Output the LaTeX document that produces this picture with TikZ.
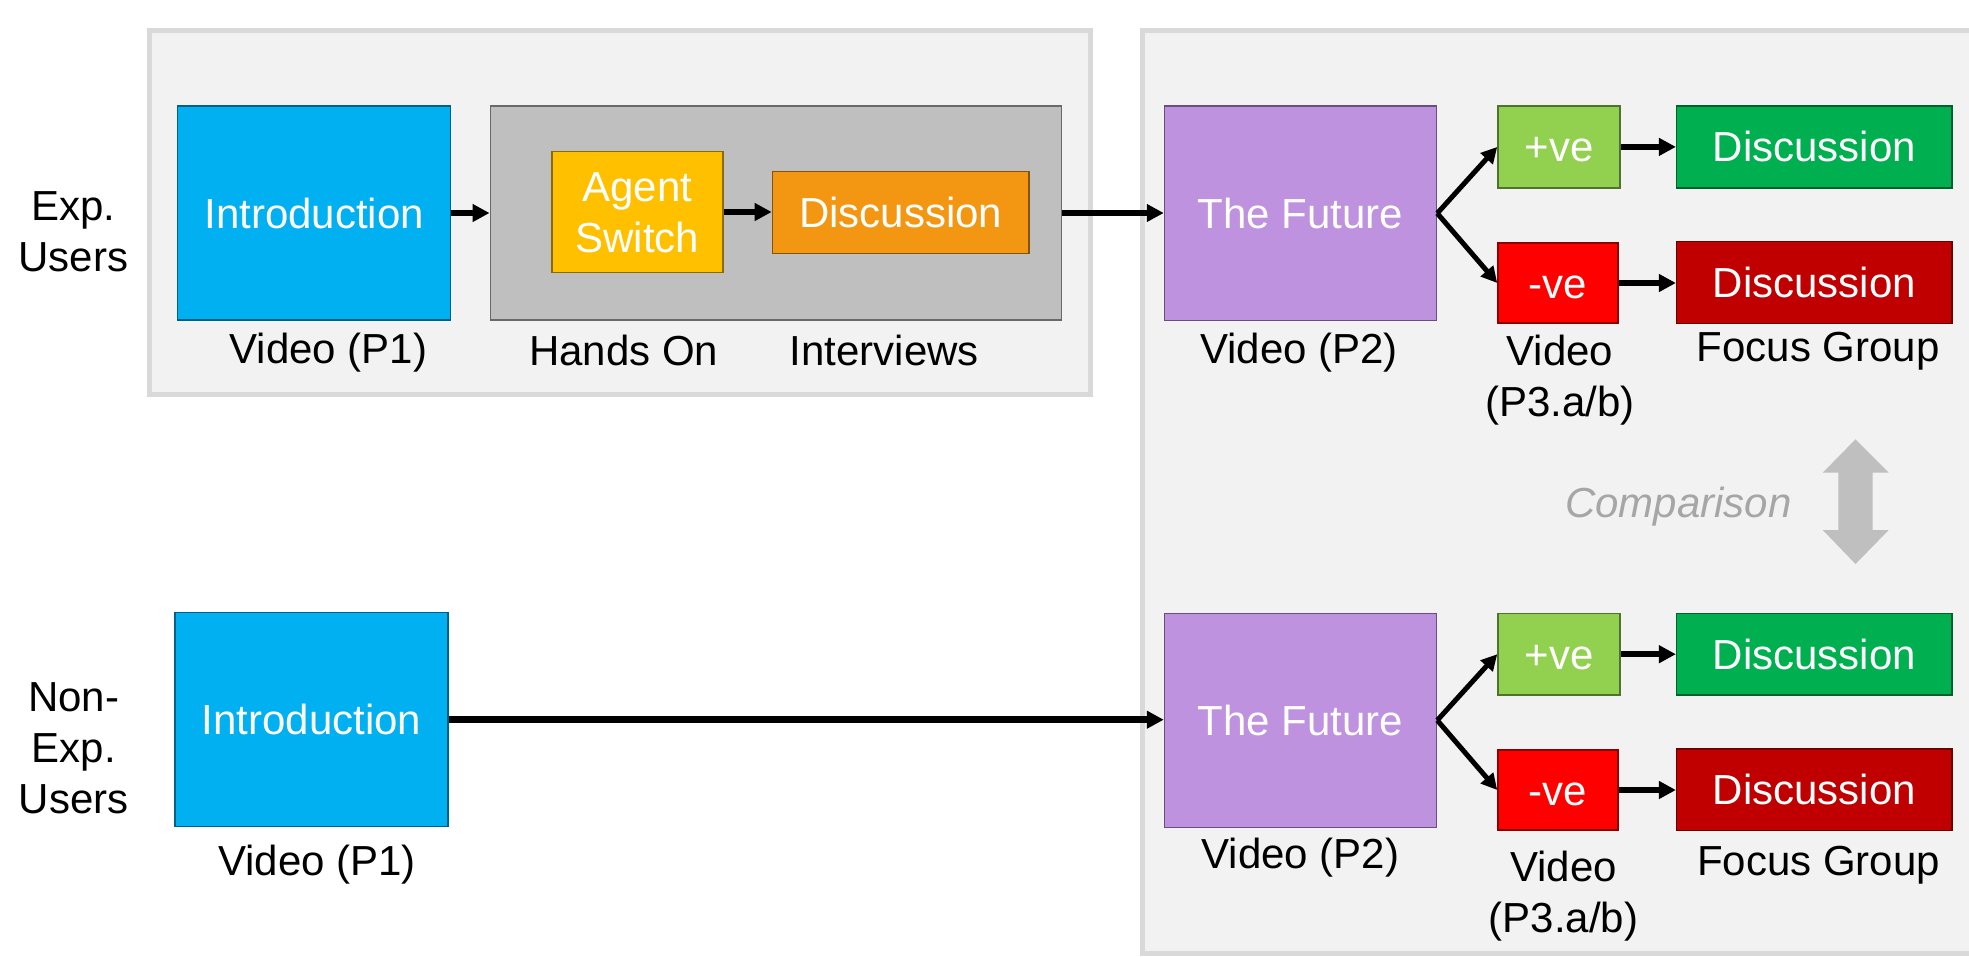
\documentclass[tikz,border=0pt]{standalone}
\usepackage{fontspec}
\setmainfont{Liberation Sans}
\usetikzlibrary{arrows.meta}
\definecolor{panelfill}{HTML}{F2F2F2}
\definecolor{panelline}{HTML}{D9D9D9}
\definecolor{introblue}{HTML}{00B0F0}
\definecolor{handsgray}{HTML}{BFBFBF}
\definecolor{agentyellow}{HTML}{FFC000}
\definecolor{discorange}{HTML}{F39712}
\definecolor{futurepurple}{HTML}{BE92DF}
\definecolor{posgreen}{HTML}{92D050}
\definecolor{discgreen}{HTML}{00B050}
\definecolor{negred}{HTML}{FF0000}
\definecolor{discred}{HTML}{C00000}
\definecolor{cmpgray}{HTML}{BFBFBF}
\definecolor{cmptext}{HTML}{A6A6A6}
\newcommand\mystack[1]{\begin{tabular}[t]{@{}c@{}}#1\end{tabular}}
\begin{document}
\begin{tikzpicture}[x=1pt,y=-1pt,
  basefont/.style={font=\fontsize{42pt}{51pt}\selectfont},
  box/.style={basefont, rectangle, inner sep=0pt, text=white, line width=1.5pt,
    fill=#1, draw=#1!55!black, text height=30pt, text depth=0pt},
  lbl/.style={basefont, inner sep=0pt, anchor=base, text=black},
  flow/.style={line width=6.5pt, -{Triangle[length=17pt,width=17pt]}},
  branch/.style={line width=5pt, -{Triangle[length=16pt,width=16pt]}},
  panel/.style={fill=panelfill, draw=panelline, line width=5pt}
]
\useasboundingbox (0,0) rectangle (1969,956);
\clip (0,0) rectangle (1969,956);

% panels
\draw[panel] (149,30) rectangle (1090,394);
\draw[panel] (1142.5,30) rectangle (2010,953.5);

% top row (experienced users)
\node[box=introblue, minimum width=273pt, minimum height=214pt] (intro1) at (314.2,213) {Introduction};
\node[box=handsgray, minimum width=571.4pt, minimum height=214pt] (handson) at (776,213) {};
\node[box=agentyellow, minimum width=171pt, minimum height=120.6pt, text height=30pt, text depth=51pt] (agent) at (637.5,212) {\mystack{Agent\\Switch}};
\node[box=discorange, minimum width=256.6pt, minimum height=81.6pt] (disc1) at (900.7,212.5) {Discussion};
\node[box=futurepurple, minimum width=272pt, minimum height=214.7pt] (fut1) at (1300.5,213.3) {The Future};
\node[box=posgreen, minimum width=122pt, minimum height=81.7pt] (pos1) at (1559,146.9) {+ve};
\node[box=negred, minimum width=120pt, minimum height=80pt] (neg1) at (1558,283) {-ve};
\node[box=discgreen, minimum width=275.3pt, minimum height=81.7pt] (dpos1) at (1814.3,146.9) {Discussion};
\node[box=discred, minimum width=275.3pt, minimum height=81.6pt] (dneg1) at (1814.3,282.5) {Discussion};

% bottom row (non-experienced users)
\node[box=introblue, minimum width=272.7pt, minimum height=214pt] (intro2) at (311.4,719.7) {Introduction};
\node[box=futurepurple, minimum width=272pt, minimum height=214pt] (fut2) at (1300.5,720.3) {The Future};
\node[box=posgreen, minimum width=122pt, minimum height=81.7pt] (pos2) at (1559,654.2) {+ve};
\node[box=negred, minimum width=120pt, minimum height=80pt] (neg2) at (1558,790) {-ve};
\node[box=discgreen, minimum width=275.3pt, minimum height=81.7pt] (dpos2) at (1814.3,654.2) {Discussion};
\node[box=discred, minimum width=275.3pt, minimum height=81.6pt] (dneg2) at (1814.3,789.9) {Discussion};

% labels
\node[lbl] (lexp) at (73.5,220.7) {\mystack{Exp.\\Users}};
\node[lbl] (lnon) at (73.8,711.7) {\mystack{Non-\\Exp.\\Users}};
\node[lbl] (lv1a) at (328.3,363.3) {Video (P1)};
\node[lbl] (lhands) at (623.7,365) {Hands On};
\node[lbl] (linter) at (884.2,365) {Interviews};
\node[lbl] (lv2a) at (1299,363.3) {Video (P2)};
\node[lbl] (lv3a) at (1560,365) {\mystack{Video\\(P3.a/b)}};
\node[lbl] (lfga) at (1818,361.7) {Focus Group};
\node[lbl] (lv1b) at (317.2,875) {Video (P1)};
\node[lbl] (lv2b) at (1300.5,868.3) {Video (P2)};
\node[lbl] (lv3b) at (1563.5,881.7) {\mystack{Video\\(P3.a/b)}};
\node[lbl] (lfgb) at (1818.5,875) {Focus Group};

% comparison
\fill[cmpgray] (1855.5,439.3) -- (1888.7,472.7) -- (1872.7,472.7) -- (1872.7,530)
  -- (1888.7,530) -- (1855.5,564) -- (1822.7,530) -- (1838.3,530)
  -- (1838.3,472.7) -- (1822.7,472.7) -- cycle;
\node[lbl, font=\fontsize{42pt}{51pt}\selectfont\itshape, text=cmptext] (cmp) at (1678.3,517.3) {Comparison};

% connectors
\draw[flow] (intro1.east) -- (intro1.east -| handson.west);
\draw[flow] (agent.east) -- (agent.east -| disc1.west);
\draw[flow] (handson.east) -- (handson.east -| fut1.west);
\draw[branch] (fut1.east) -- (pos1.west);
\draw[branch] (fut1.east) -- (neg1.west);
\draw[flow] (pos1.east) -- (pos1.east -| dpos1.west);
\draw[flow] (neg1.east) -- (neg1.east -| dneg1.west);

\draw[flow] (intro2.east) -- (intro2.east -| fut2.west);
\draw[branch] (fut2.east) -- (pos2.west);
\draw[branch] (fut2.east) -- (neg2.west);
\draw[flow] (pos2.east) -- (pos2.east -| dpos2.west);
\draw[flow] (neg2.east) -- (neg2.east -| dneg2.west);
\end{tikzpicture}
\end{document}
